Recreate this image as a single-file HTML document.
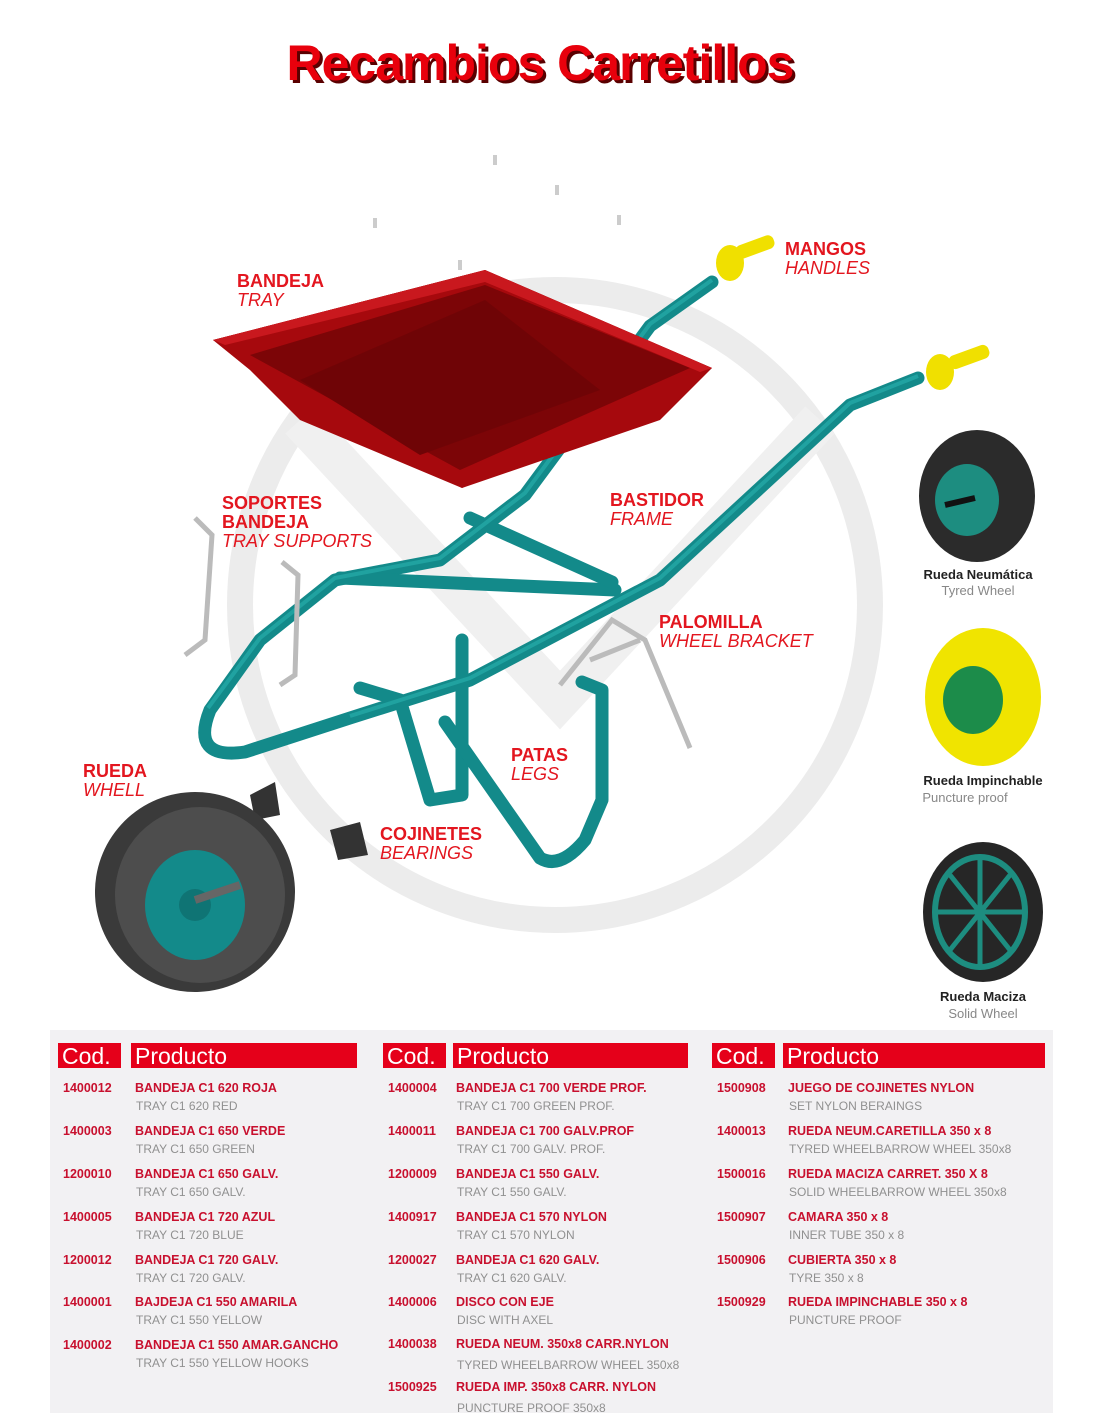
<!DOCTYPE html>
<html><head><meta charset="utf-8"><style>
body{margin:0;background:#fff;width:1100px;height:1422px;position:relative;overflow:hidden;font-family:"Liberation Sans",sans-serif}
.t{position:absolute;white-space:nowrap}
.lbl{color:#e3161f;font-weight:bold;font-size:18px;line-height:19px}
.lbl i{font-weight:normal}
.tb{position:absolute;left:50px;top:1030px;width:1003px;height:383px;background:#f2f1f3}
.h{position:absolute;top:1043px;height:25px;background:#e5001a;color:#fff;font-size:23px;line-height:26px;padding-left:4px;box-sizing:border-box}
.c{position:absolute;font-size:12.5px;font-weight:bold;color:#c8102e}
.s{position:absolute;font-size:12px;color:#909090}
.w1{font-size:13px;font-weight:bold;color:#222;text-align:center;width:170px}
.w2{font-size:13px;color:#888;text-align:center;width:170px}
</style></head><body>
<div class="t" style="left:0;width:1080px;top:34px;text-align:center;font-size:50px;font-weight:bold;color:#e8000c;text-shadow:3px 3px 0 #5a0000;letter-spacing:-1px">Recambios Carretillos</div>
<svg width="1100" height="1030" style="position:absolute;left:0;top:0">
<circle cx="555" cy="605" r="315" fill="none" stroke="#ececec" stroke-width="26"/>
<path d="M300 420 L560 700 L820 420" fill="none" stroke="#f0f0f0" stroke-width="40"/>
<g fill="#ccc"><rect x="493" y="155" width="4" height="10"/><rect x="555" y="185" width="4" height="10"/><rect x="373" y="218" width="4" height="10"/><rect x="617" y="215" width="4" height="10"/><rect x="458" y="260" width="4" height="10"/></g>
<!-- frame -->
<g fill="none" stroke="#138a8a" stroke-width="13" stroke-linecap="round" stroke-linejoin="round">
<path d="M712 282 L650 326 L525 495 L440 560 L335 580 L260 640 L210 710 Q190 760 245 752 L350 718 L470 680 L660 580 L850 405 L918 378"/>
<path d="M340 578 L615 590"/><path d="M470 518 L612 582"/>
<path d="M360 688 L400 700 L430 800 L462 795 L462 640"/>
<path d="M445 722 L540 858 Q560 870 585 840 L602 800 L602 690 L582 682"/>
</g>
<g fill="none" stroke="#29b3b0" stroke-width="4" opacity=".6"><path d="M712 280 L650 324 L525 493 L440 558 L335 578 L260 638 L208 708"/><path d="M918 376 L850 403 L660 578 L470 678 L350 716"/></g>
<!-- tray -->
<path d="M213 340 L485 270 L712 368 L462 488 Z" fill="#b10a10"/>
<path d="M213 340 L250 370 L300 420 L462 488 L660 420 L712 368 L485 270 Z" fill="#a6090d"/>
<path d="M250 355 L485 285 L690 368 L460 470 Z" fill="#7c0507"/>
<path d="M300 380 L485 300 L600 390 L420 455 Z" fill="#6f0406"/>
<path d="M213 340 L485 270 L712 368 L700 372 L485 282 L225 345 Z" fill="#c9181e"/>
<!-- handles -->
<g fill="#f0e000"><rect x="735" y="240" width="40" height="14" rx="6" transform="rotate(-20 755 247)"/><ellipse cx="730" cy="263" rx="14" ry="18"/><rect x="948" y="350" width="42" height="14" rx="6" transform="rotate(-20 969 357)"/><ellipse cx="940" cy="372" rx="14" ry="18"/></g>
<!-- supports & bracket -->
<g fill="none" stroke="#bbb" stroke-width="5"><path d="M195 518 L212 535 L205 640 L185 655"/><path d="M282 562 L298 575 L295 675 L280 685"/><path d="M560 685 L612 620 L645 640 L690 748"/><path d="M590 660 L640 640"/></g>
<!-- bearings -->
<path d="M250 795 L275 782 L280 815 L255 820 Z" fill="#333"/><path d="M330 830 L360 822 L368 855 L338 860 Z" fill="#333"/>
<!-- main wheel -->
<ellipse cx="195" cy="892" rx="100" ry="100" fill="#3a3a3a" transform="rotate(20 195 892)"/>
<ellipse cx="200" cy="895" rx="85" ry="88" fill="#4d4d4d"/>
<ellipse cx="195" cy="905" rx="50" ry="55" fill="#138a8a"/><circle cx="195" cy="905" r="16" fill="#0f7474"/>
<path d="M195 900 L240 885" stroke="#666" stroke-width="8"/>
<!-- side wheels -->
<ellipse cx="977" cy="496" rx="58" ry="66" fill="#2b2b2b"/><ellipse cx="967" cy="500" rx="32" ry="36" fill="#1d8d80"/><path d="M945 505 L975 498" stroke="#111" stroke-width="6"/>
<ellipse cx="983" cy="697" rx="58" ry="69" fill="#f0e400"/><ellipse cx="973" cy="700" rx="30" ry="34" fill="#1c8c4a"/>
<ellipse cx="983" cy="912" rx="60" ry="70" fill="#262626"/><ellipse cx="980" cy="912" rx="45" ry="55" fill="none" stroke="#1d8d80" stroke-width="6"/>
<g stroke="#1d8d80" stroke-width="5"><path d="M980 860 L980 965"/><path d="M937 912 L1023 912"/><path d="M950 875 L1010 950"/><path d="M1010 875 L950 950"/></g>
</svg>
<div class="t lbl" style="left:785px;top:240px">MANGOS<br><i>HANDLES</i></div>
<div class="t lbl" style="left:237px;top:272px">BANDEJA<br><i>TRAY</i></div>
<div class="t lbl" style="left:610px;top:491px">BASTIDOR<br><i>FRAME</i></div>
<div class="t lbl" style="left:222px;top:494px">SOPORTES<br>BANDEJA<br><i>TRAY SUPPORTS</i></div>
<div class="t lbl" style="left:659px;top:613px">PALOMILLA<br><i>WHEEL BRACKET</i></div>
<div class="t lbl" style="left:511px;top:746px">PATAS<br><i>LEGS</i></div>
<div class="t lbl" style="left:83px;top:762px">RUEDA<br><i>WHELL</i></div>
<div class="t lbl" style="left:380px;top:825px">COJINETES<br><i>BEARINGS</i></div>
<div class="t w1" style="left:893px;top:567px">Rueda Neumática</div><div class="t w2" style="left:893px;top:583px">Tyred Wheel</div>
<div class="t w1" style="left:898px;top:773px">Rueda Impinchable</div><div class="t w2" style="left:880px;top:790px">Puncture proof</div>
<div class="t w1" style="left:898px;top:989px">Rueda Maciza</div><div class="t w2" style="left:898px;top:1006px">Solid Wheel</div>
<div class="tb"></div>
<div class="h" style="left:58px;width:63px">Cod.</div><div class="h" style="left:131px;width:226px">Producto</div>
<div class="h" style="left:383px;width:63px">Cod.</div><div class="h" style="left:453px;width:235px">Producto</div>
<div class="h" style="left:712px;width:63px">Cod.</div><div class="h" style="left:783px;width:262px">Producto</div>
<div id="rows"></div>
<div class="c" style="left:63px;top:1081px">1400012</div><div class="c" style="left:135px;top:1081px">BANDEJA C1 620 ROJA</div><div class="s" style="left:136px;top:1099px">TRAY C1 620 RED</div>
<div class="c" style="left:63px;top:1124px">1400003</div><div class="c" style="left:135px;top:1124px">BANDEJA C1 650 VERDE</div><div class="s" style="left:136px;top:1142px">TRAY C1 650 GREEN</div>
<div class="c" style="left:63px;top:1167px">1200010</div><div class="c" style="left:135px;top:1167px">BANDEJA C1 650 GALV.</div><div class="s" style="left:136px;top:1185px">TRAY C1 650 GALV.</div>
<div class="c" style="left:63px;top:1210px">1400005</div><div class="c" style="left:135px;top:1210px">BANDEJA C1 720 AZUL</div><div class="s" style="left:136px;top:1228px">TRAY C1 720 BLUE</div>
<div class="c" style="left:63px;top:1253px">1200012</div><div class="c" style="left:135px;top:1253px">BANDEJA C1 720 GALV.</div><div class="s" style="left:136px;top:1271px">TRAY C1 720 GALV.</div>
<div class="c" style="left:63px;top:1295px">1400001</div><div class="c" style="left:135px;top:1295px">BAJDEJA C1 550 AMARILA</div><div class="s" style="left:136px;top:1313px">TRAY C1 550 YELLOW</div>
<div class="c" style="left:63px;top:1338px">1400002</div><div class="c" style="left:135px;top:1338px">BANDEJA C1 550 AMAR.GANCHO</div><div class="s" style="left:136px;top:1356px">TRAY C1 550 YELLOW HOOKS</div>
<div class="c" style="left:388px;top:1081px">1400004</div><div class="c" style="left:456px;top:1081px">BANDEJA C1 700 VERDE PROF.</div><div class="s" style="left:457px;top:1099px">TRAY C1 700 GREEN PROF.</div>
<div class="c" style="left:388px;top:1124px">1400011</div><div class="c" style="left:456px;top:1124px">BANDEJA C1 700 GALV.PROF</div><div class="s" style="left:457px;top:1142px">TRAY C1 700 GALV. PROF.</div>
<div class="c" style="left:388px;top:1167px">1200009</div><div class="c" style="left:456px;top:1167px">BANDEJA C1 550 GALV.</div><div class="s" style="left:457px;top:1185px">TRAY C1 550 GALV.</div>
<div class="c" style="left:388px;top:1210px">1400917</div><div class="c" style="left:456px;top:1210px">BANDEJA C1 570 NYLON</div><div class="s" style="left:457px;top:1228px">TRAY C1 570 NYLON</div>
<div class="c" style="left:388px;top:1253px">1200027</div><div class="c" style="left:456px;top:1253px">BANDEJA C1 620 GALV.</div><div class="s" style="left:457px;top:1271px">TRAY C1 620 GALV.</div>
<div class="c" style="left:388px;top:1295px">1400006</div><div class="c" style="left:456px;top:1295px">DISCO CON EJE</div><div class="s" style="left:457px;top:1313px">DISC WITH AXEL</div>
<div class="c" style="left:388px;top:1337px">1400038</div><div class="c" style="left:456px;top:1337px">RUEDA NEUM. 350x8 CARR.NYLON</div><div class="s" style="left:457px;top:1358px">TYRED WHEELBARROW WHEEL 350x8</div>
<div class="c" style="left:388px;top:1380px">1500925</div><div class="c" style="left:456px;top:1380px">RUEDA IMP. 350x8 CARR. NYLON</div><div class="s" style="left:457px;top:1401px">PUNCTURE PROOF 350x8</div>
<div class="c" style="left:717px;top:1081px">1500908</div><div class="c" style="left:788px;top:1081px">JUEGO DE COJINETES NYLON</div><div class="s" style="left:789px;top:1099px">SET NYLON BERAINGS</div>
<div class="c" style="left:717px;top:1124px">1400013</div><div class="c" style="left:788px;top:1124px">RUEDA NEUM.CARETILLA 350 x 8</div><div class="s" style="left:789px;top:1142px">TYRED WHEELBARROW WHEEL 350x8</div>
<div class="c" style="left:717px;top:1167px">1500016</div><div class="c" style="left:788px;top:1167px">RUEDA MACIZA CARRET. 350 X 8</div><div class="s" style="left:789px;top:1185px">SOLID WHEELBARROW WHEEL 350x8</div>
<div class="c" style="left:717px;top:1210px">1500907</div><div class="c" style="left:788px;top:1210px">CAMARA 350 x 8</div><div class="s" style="left:789px;top:1228px">INNER TUBE 350 x 8</div>
<div class="c" style="left:717px;top:1253px">1500906</div><div class="c" style="left:788px;top:1253px">CUBIERTA 350 x 8</div><div class="s" style="left:789px;top:1271px">TYRE 350 x 8</div>
<div class="c" style="left:717px;top:1295px">1500929</div><div class="c" style="left:788px;top:1295px">RUEDA IMPINCHABLE 350 x 8</div><div class="s" style="left:789px;top:1313px">PUNCTURE PROOF</div>
</body></html>
